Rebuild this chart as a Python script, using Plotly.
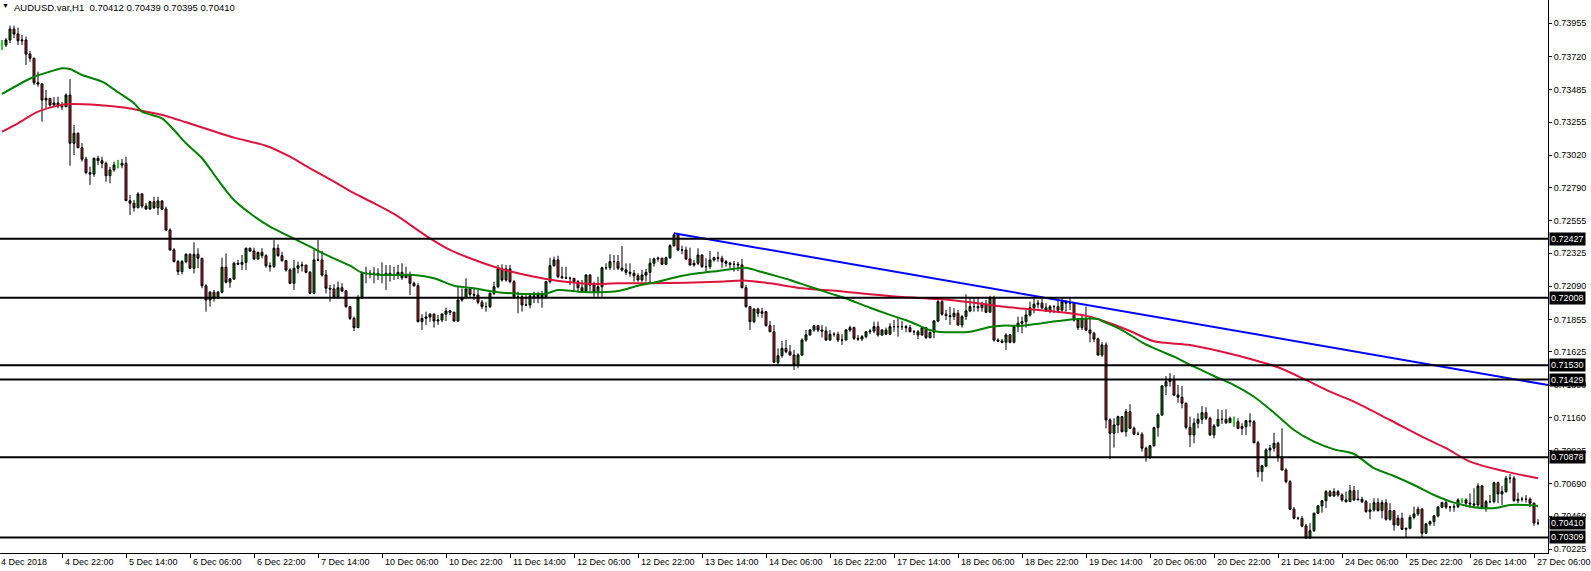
import plotly.graph_objects as go

# ---------------- data (AUDUSD H1, bars 1..385) ----------------
closes = [
0.73801,0.73836,0.73914,0.73879,0.73831,0.73836,0.73737,0.73707,0.73534,0.73524,
0.73411,0.73423,0.73376,0.73390,0.73368,0.73363,0.73446,0.73104,0.73175,0.73073,
0.72991,0.72896,0.72886,0.72998,0.72981,0.72962,0.72874,0.72915,0.72950,0.72950,
0.72962,0.72697,0.72679,0.72647,0.72745,0.72659,0.72638,0.72690,0.72647,0.72695,
0.72638,0.72489,0.72348,0.72265,0.72194,0.72265,0.72317,0.72218,0.72317,0.72289,
0.72094,0.71993,0.72048,0.72005,0.72048,0.72225,0.72119,0.72142,0.72253,0.72246,
0.72260,0.72360,0.72340,0.72284,0.72331,0.72307,0.72236,0.72229,0.72360,0.72307,
0.72272,0.72206,0.72111,0.72218,0.72236,0.72241,0.72189,0.72040,0.72277,0.72277,
0.72170,0.72076,0.72071,0.72016,0.72080,0.72057,0.71946,0.71863,0.71797,0.72005,
0.72182,0.72182,0.72182,0.72182,0.72170,0.72170,0.72182,0.72175,0.72170,0.72189,
0.72151,0.72170,0.72111,0.72094,0.71839,0.71863,0.71872,0.71892,0.71844,0.71851,
0.71892,0.71915,0.71906,0.71844,0.71993,0.72009,0.72071,0.72033,0.72028,0.71977,
0.71946,0.71946,0.72040,0.72087,0.72213,0.72135,0.72213,0.72123,0.72016,0.72016,
0.71958,0.71958,0.72023,0.72016,0.72028,0.72016,0.72123,0.72236,0.72277,0.72158,
0.72151,0.72147,0.72147,0.72123,0.72080,0.72057,0.72170,0.72099,0.72052,0.72087,
0.72222,0.72222,0.72265,0.72265,0.72218,0.72206,0.72189,0.72182,0.72165,0.72135,
0.72170,0.72189,0.72253,0.72284,0.72289,0.72246,0.72293,0.72378,0.72454,0.72348,
0.72348,0.72284,0.72241,0.72253,0.72312,0.72229,0.72229,0.72277,0.72293,0.72289,
0.72265,0.72253,0.72246,0.72246,0.72241,0.72080,0.71946,0.71839,0.71929,0.71899,
0.71910,0.71811,0.71768,0.71551,0.71598,0.71650,0.71626,0.71603,0.71532,0.71603,
0.71709,0.71745,0.71780,0.71811,0.71780,0.71773,0.71709,0.71750,0.71750,0.71709,
0.71709,0.71780,0.71797,0.71721,0.71716,0.71733,0.71768,0.71773,0.71804,0.71745,
0.71780,0.71750,0.71804,0.71804,0.71804,0.71804,0.71797,0.71768,0.71768,0.71745,
0.71797,0.71726,0.71764,0.71844,0.71981,0.71892,0.71882,0.71875,0.71899,0.71816,
0.71875,0.71915,0.71946,0.71946,0.71938,0.71963,0.71906,0.72009,0.71709,0.71702,
0.71693,0.71745,0.71693,0.71804,0.71828,0.71839,0.71887,0.71938,0.71963,0.71970,
0.71938,0.71915,0.71946,0.71946,0.71922,0.71981,0.71970,0.71970,0.71851,0.71797,
0.71863,0.71780,0.71757,0.71716,0.71603,0.71674,0.71142,0.71048,0.71107,0.71166,
0.71059,0.71201,0.71083,0.71041,0.71041,0.70942,0.70875,0.70960,0.71088,0.71178,
0.71383,0.71414,0.71431,0.71319,0.71303,0.71261,0.71090,0.71036,0.71119,0.71147,
0.71194,0.71154,0.71036,0.71100,0.71147,0.71147,0.71123,0.71154,0.71130,0.71083,
0.71095,0.71137,0.71130,0.70981,0.70776,0.70816,0.70930,0.70942,0.70977,0.70882,
0.70788,0.70705,0.70510,0.70445,0.70445,0.70391,0.70304,0.70357,0.70481,0.70533,
0.70570,0.70634,0.70603,0.70634,0.70610,0.70575,0.70563,0.70641,0.70575,0.70580,
0.70563,0.70492,0.70505,0.70556,0.70500,0.70556,0.70438,0.70500,0.70398,0.70445,
0.70367,0.70374,0.70452,0.70476,0.70510,0.70339,0.70405,0.70421,0.70462,0.70524,
0.70556,0.70524,0.70524,0.70528,0.70575,0.70575,0.70552,0.70547,0.70540,0.70674,
0.70524,0.70563,0.70563,0.70698,0.70618,0.70634,0.70729,0.70729,0.70570,0.70580,
0.70580,0.70580,0.70552,0.70412,0.70410]

highs = [
0.73836,0.73851,0.73938,0.73938,0.73924,0.73872,0.73860,0.73758,0.73711,0.73612,
0.73532,0.73482,0.73411,0.73432,0.73434,0.73397,0.73458,0.73560,0.73234,0.73182,
0.73106,0.73009,0.72938,0.73002,0.73016,0.73009,0.72974,0.72938,0.72974,0.72986,
0.72993,0.73009,0.72737,0.72702,0.72757,0.72750,0.72681,0.72697,0.72725,0.72725,
0.72702,0.72655,0.72501,0.72360,0.72277,0.72277,0.72324,0.72324,0.72402,0.72360,
0.72289,0.72104,0.72057,0.72064,0.72057,0.72293,0.72324,0.72147,0.72265,0.72277,
0.72312,0.72364,0.72364,0.72364,0.72335,0.72360,0.72317,0.72260,0.72418,0.72388,
0.72335,0.72277,0.72218,0.72277,0.72265,0.72265,0.72241,0.72199,0.72348,0.72418,
0.72340,0.72206,0.72099,0.72104,0.72123,0.72111,0.72064,0.71946,0.71875,0.72028,
0.72194,0.72229,0.72206,0.72225,0.72218,0.72260,0.72241,0.72241,0.72229,0.72241,
0.72253,0.72229,0.72194,0.72123,0.72111,0.71892,0.71910,0.71899,0.71899,0.71887,
0.71899,0.71938,0.71922,0.71910,0.72087,0.72076,0.72147,0.72080,0.72071,0.72064,
0.71993,0.71977,0.72048,0.72123,0.72241,0.72246,0.72241,0.72241,0.72135,0.72052,
0.72033,0.72040,0.72040,0.72052,0.72052,0.72057,0.72128,0.72293,0.72300,0.72307,
0.72229,0.72229,0.72158,0.72135,0.72135,0.72135,0.72175,0.72175,0.72123,0.72158,
0.72229,0.72253,0.72317,0.72312,0.72312,0.72376,0.72253,0.72253,0.72206,0.72182,
0.72206,0.72213,0.72289,0.72293,0.72300,0.72293,0.72300,0.72388,0.72466,0.72466,
0.72378,0.72371,0.72364,0.72277,0.72360,0.72317,0.72289,0.72340,0.72300,0.72335,
0.72307,0.72277,0.72265,0.72270,0.72262,0.72284,0.72099,0.71946,0.71934,0.71938,
0.71938,0.71915,0.71844,0.71816,0.71650,0.71702,0.71709,0.71674,0.71639,0.71615,
0.71721,0.71780,0.71787,0.71816,0.71816,0.71816,0.71804,0.71780,0.71764,0.71768,
0.71750,0.71787,0.71811,0.71804,0.71745,0.71745,0.71773,0.71787,0.71839,0.71839,
0.71787,0.71797,0.71828,0.71851,0.71863,0.71844,0.71816,0.71816,0.71780,0.71780,
0.71804,0.71787,0.71768,0.71851,0.72000,0.72000,0.71922,0.71946,0.71934,0.71922,
0.71887,0.72033,0.72005,0.72005,0.72005,0.71981,0.71993,0.72023,0.72023,0.71721,
0.71716,0.71757,0.71750,0.71811,0.71875,0.71875,0.71922,0.71981,0.72009,0.71993,
0.72005,0.71970,0.71958,0.71958,0.71993,0.72005,0.71993,0.72005,0.71970,0.71863,
0.71887,0.71946,0.71875,0.71768,0.71726,0.71693,0.71693,0.71154,0.71154,0.71173,
0.71166,0.71220,0.71254,0.71095,0.71059,0.71055,0.70953,0.70965,0.71095,0.71190,
0.71390,0.71454,0.71473,0.71461,0.71390,0.71383,0.71265,0.71166,0.71154,0.71190,
0.71241,0.71232,0.71166,0.71114,0.71218,0.71213,0.71218,0.71166,0.71166,0.71154,
0.71119,0.71142,0.71190,0.71142,0.70995,0.70823,0.70942,0.70965,0.71052,0.70988,
0.71083,0.70800,0.70717,0.70524,0.70457,0.70462,0.70405,0.70410,0.70485,0.70540,
0.70575,0.70646,0.70646,0.70658,0.70646,0.70622,0.70634,0.70681,0.70674,0.70646,
0.70598,0.70575,0.70552,0.70587,0.70587,0.70575,0.70580,0.70552,0.70505,0.70469,
0.70485,0.70376,0.70469,0.70528,0.70528,0.70517,0.70414,0.70428,0.70469,0.70533,
0.70563,0.70570,0.70533,0.70547,0.70587,0.70587,0.70587,0.70622,0.70658,0.70693,
0.70681,0.70575,0.70610,0.70705,0.70705,0.70674,0.70745,0.70759,0.70745,0.70627,
0.70598,0.70610,0.70594,0.70556,0.70439]

lows = [
0.73766,0.73787,0.73815,0.73851,0.73801,0.73801,0.73659,0.73683,0.73517,0.73505,
0.73257,0.73354,0.73363,0.73361,0.73352,0.73340,0.73363,0.72945,0.73021,0.73069,
0.72974,0.72884,0.72808,0.72867,0.72950,0.72927,0.72832,0.72820,0.72903,0.72927,
0.72927,0.72695,0.72596,0.72619,0.72643,0.72643,0.72631,0.72631,0.72638,0.72596,
0.72631,0.72484,0.72343,0.72260,0.72170,0.72175,0.72253,0.72213,0.72182,0.72218,
0.72076,0.71910,0.71946,0.71981,0.72000,0.72040,0.72111,0.72080,0.72135,0.72241,
0.72206,0.72206,0.72335,0.72277,0.72277,0.72289,0.72222,0.72194,0.72222,0.72300,
0.72265,0.72194,0.72104,0.72064,0.72182,0.72194,0.72182,0.72033,0.72033,0.72270,
0.72158,0.72040,0.71981,0.72009,0.72009,0.72052,0.71938,0.71851,0.71773,0.71797,
0.72000,0.72111,0.72147,0.72111,0.72135,0.72111,0.72064,0.72123,0.72135,0.72142,
0.72135,0.72156,0.72028,0.72087,0.71835,0.71780,0.71816,0.71839,0.71797,0.71816,
0.71835,0.71844,0.71887,0.71839,0.71839,0.71981,0.72005,0.72016,0.71993,0.71963,
0.71929,0.71910,0.71934,0.72028,0.72076,0.72123,0.72123,0.72111,0.72005,0.71899,
0.71910,0.71953,0.71934,0.71970,0.71970,0.71938,0.72009,0.72111,0.72229,0.72147,
0.72142,0.72142,0.72099,0.72052,0.72052,0.72048,0.72052,0.72057,0.72016,0.72016,
0.72016,0.72206,0.72206,0.72206,0.72206,0.72194,0.72170,0.72158,0.72123,0.72123,
0.72123,0.72123,0.72111,0.72229,0.72265,0.72241,0.72241,0.72284,0.72371,0.72340,
0.72317,0.72277,0.72236,0.72229,0.72241,0.72222,0.72194,0.72213,0.72265,0.72265,
0.72222,0.72229,0.72218,0.72194,0.72199,0.72076,0.71938,0.71780,0.71828,0.71875,
0.71867,0.71804,0.71764,0.71544,0.71532,0.71584,0.71615,0.71598,0.71497,0.71509,
0.71598,0.71697,0.71740,0.71768,0.71764,0.71726,0.71702,0.71702,0.71733,0.71693,
0.71674,0.71721,0.71768,0.71709,0.71702,0.71702,0.71721,0.71750,0.71757,0.71733,
0.71740,0.71745,0.71745,0.71768,0.71733,0.71780,0.71764,0.71764,0.71745,0.71716,
0.71740,0.71716,0.71721,0.71721,0.71835,0.71882,0.71851,0.71816,0.71851,0.71811,
0.71797,0.71851,0.71906,0.71910,0.71910,0.71910,0.71899,0.71906,0.71697,0.71693,
0.71686,0.71639,0.71686,0.71686,0.71764,0.71757,0.71797,0.71875,0.71899,0.71934,
0.71929,0.71910,0.71899,0.71899,0.71899,0.71910,0.71910,0.71922,0.71839,0.71780,
0.71780,0.71773,0.71693,0.71693,0.71598,0.71591,0.71083,0.70866,0.70946,0.71048,
0.71055,0.71024,0.71078,0.71036,0.71036,0.70918,0.70847,0.70866,0.70953,0.71024,
0.71171,0.71319,0.71378,0.71312,0.71265,0.71225,0.71076,0.70949,0.70977,0.71083,
0.71114,0.71142,0.71029,0.71012,0.71095,0.71114,0.71114,0.71123,0.71095,0.71076,
0.71036,0.71036,0.71095,0.70977,0.70736,0.70705,0.70807,0.70882,0.70918,0.70847,
0.70783,0.70693,0.70505,0.70438,0.70433,0.70381,0.70301,0.70320,0.70350,0.70476,
0.70485,0.70517,0.70598,0.70598,0.70598,0.70563,0.70556,0.70563,0.70570,0.70575,
0.70552,0.70485,0.70438,0.70492,0.70492,0.70445,0.70428,0.70428,0.70357,0.70391,
0.70362,0.70304,0.70367,0.70438,0.70462,0.70304,0.70334,0.70391,0.70391,0.70452,
0.70517,0.70510,0.70492,0.70492,0.70517,0.70552,0.70528,0.70517,0.70517,0.70517,
0.70517,0.70492,0.70552,0.70552,0.70552,0.70540,0.70627,0.70693,0.70563,0.70552,
0.70563,0.70556,0.70524,0.70391,0.70395]

last_bar_open = 0.70412          # from the header O value
doji_bars = [1, 30, 309, 366]    # bars drawn as lime crosses (open == close)

# moving averages (sampled along the curve)
ma_fast_bars = [1, 9, 13, 16, 18, 21, 26, 30, 34, 36, 41, 44, 47, 51, 55, 59, 63, 68, 73, 78,
                83, 88, 91, 97, 104, 109, 114, 119, 124, 130, 137, 140, 145, 151, 155, 160, 165,
                170, 175, 180, 185, 187, 190, 193, 198, 203, 208, 213, 218, 223, 228, 233, 235,
                240, 243, 248, 251, 256, 260, 265, 270, 275, 276, 281, 286, 290, 294, 299, 304,
                309, 314, 319, 324, 329, 334, 339, 344, 349, 354, 359, 364, 369, 374, 378, 382, 385]
ma_fast = [0.73454, 0.73576, 0.73612, 0.73636, 0.73631, 0.73588, 0.73541, 0.73466, 0.73388, 0.73328,
           0.73281, 0.73198, 0.73104, 0.72998, 0.72844, 0.72702, 0.72608, 0.72513, 0.72442, 0.72371,
           0.72300, 0.72236, 0.72187, 0.72170, 0.72170, 0.72147, 0.72094, 0.72076, 0.72052, 0.72038,
           0.72038, 0.72064, 0.72052, 0.72048, 0.72057, 0.72094, 0.72123, 0.72158, 0.72182, 0.72199,
           0.72218, 0.72222, 0.72199, 0.72175, 0.72135, 0.72087, 0.72040, 0.71993, 0.71938, 0.71887,
           0.71839, 0.71780, 0.71768, 0.71764, 0.71768, 0.71802, 0.71811, 0.71811, 0.71825, 0.71844,
           0.71858, 0.71858, 0.71844, 0.71780, 0.71693, 0.71639, 0.71591, 0.71520, 0.71454, 0.71390,
           0.71307, 0.71194, 0.71071, 0.70988, 0.70934, 0.70901, 0.70800, 0.70745, 0.70681, 0.70610,
           0.70556, 0.70524, 0.70517, 0.70540, 0.70540, 0.70533]

ma_slow_bars = [1, 5, 10, 15, 17, 25, 32, 37, 42, 47, 53, 59, 67, 73, 78, 84, 89, 94, 99, 108,
                113, 118, 124, 130, 137, 143, 148, 155, 163, 172, 180, 187, 193, 201, 210, 218,
                226, 235, 243, 251, 260, 268, 273, 278, 283, 289, 298, 306, 314, 320, 327, 333,
                339, 348, 356, 362, 368, 377, 385]
ma_slow = [0.73186, 0.73246, 0.73328, 0.73371, 0.73381, 0.73376, 0.73356, 0.73328, 0.73298, 0.73253,
           0.73198, 0.73144, 0.73087, 0.73009, 0.72927, 0.72832, 0.72750, 0.72679, 0.72603, 0.72430,
           0.72348, 0.72289, 0.72229, 0.72182, 0.72142, 0.72119, 0.72106, 0.72111, 0.72111, 0.72116,
           0.72123, 0.72130, 0.72111, 0.72076, 0.72057, 0.72033, 0.72014, 0.72000, 0.71977, 0.71946,
           0.71922, 0.71899, 0.71875, 0.71828, 0.71773, 0.71700, 0.71674, 0.71626, 0.71568, 0.71516,
           0.71426, 0.71343, 0.71272, 0.71142, 0.71024, 0.70942, 0.70847, 0.70776, 0.70729]

trend_bars = [169, 387.5]
trend_prices = [0.72466, 0.71390]

level_prices = [0.72427, 0.72008, 0.71530, 0.71429, 0.70878, 0.70309]
bid_price = 0.70410

y_ticks = [0.73955, 0.73720, 0.73485, 0.73255, 0.73020, 0.72790, 0.72555, 0.72325, 0.72090,
           0.71855, 0.71625, 0.71390, 0.71160, 0.70925, 0.70690, 0.70460, 0.70225]

x_tick_bars = [16 * k for k in range(25)]
x_tick_labels = ["4 Dec 2018", "4 Dec 22:00", "5 Dec 14:00", "6 Dec 06:00", "6 Dec 22:00",
                 "7 Dec 14:00", "10 Dec 06:00", "10 Dec 22:00", "11 Dec 14:00", "12 Dec 06:00",
                 "12 Dec 22:00", "13 Dec 14:00", "14 Dec 06:00", "16 Dec 22:00", "17 Dec 14:00",
                 "18 Dec 06:00", "18 Dec 22:00", "19 Dec 14:00", "20 Dec 06:00", "20 Dec 22:00",
                 "21 Dec 14:00", "24 Dec 06:00", "25 Dec 22:00", "26 Dec 14:00", "27 Dec 06:00"]

title_text = "AUDUSD.var,H1\u00a0\u00a00.70412 0.70439 0.70395 0.70410"

# ---------------- build ----------------
n = min(len(closes), len(highs), len(lows))
closes, highs, lows = closes[:n], highs[:n], lows[:n]
bars = list(range(1, n + 1))
opens = [closes[0]] + closes[:-1]
opens[-1] = last_bar_open
for b in doji_bars:
    if b <= n:
        opens[b - 1] = closes[b - 1]
hi = [max(h, o, c) for h, o, c in zip(highs, opens, closes)]
lo = [min(l, o, c) for l, o, c in zip(lows, opens, closes)]

FONT = "Liberation Sans, Arial, sans-serif"
fig = go.Figure()

fig.add_trace(go.Scatter(x=trend_bars, y=trend_prices, mode="lines",
                         line=dict(color="#0000ff", width=2), hoverinfo="skip", showlegend=False))
fig.add_trace(go.Scatter(x=ma_slow_bars, y=ma_slow, mode="lines",
                         line=dict(color="#dc143c", width=2, shape="spline", smoothing=0.8),
                         hoverinfo="skip", showlegend=False))
fig.add_trace(go.Scatter(x=ma_fast_bars, y=ma_fast, mode="lines",
                         line=dict(color="#008000", width=2, shape="spline", smoothing=0.8),
                         hoverinfo="skip", showlegend=False))

fig.add_trace(go.Candlestick(
    x=bars, open=opens, high=hi, low=lo, close=closes,
    increasing=dict(line=dict(color="black", width=1), fillcolor="#008000"),
    decreasing=dict(line=dict(color="black", width=1), fillcolor="#c0202a"),
    whiskerwidth=0, hoverinfo="skip", showlegend=False))

dj = [b for b in doji_bars if b <= n]
fig.add_trace(go.Candlestick(
    x=dj, open=[opens[b - 1] for b in dj], high=[hi[b - 1] for b in dj],
    low=[lo[b - 1] for b in dj], close=[closes[b - 1] for b in dj],
    increasing=dict(line=dict(color="#00ff00", width=1), fillcolor="#00ff00"),
    decreasing=dict(line=dict(color="#00ff00", width=1), fillcolor="#00ff00"),
    whiskerwidth=0, hoverinfo="skip", showlegend=False))

shapes = []
for p in level_prices:
    shapes.append(dict(type="line", xref="paper", x0=0, x1=1, yref="y", y0=p, y1=p,
                       line=dict(color="black", width=2)))

annotations = []
for p in level_prices + [bid_price]:
    annotations.append(dict(xref="paper", x=1, xanchor="left", xshift=1, yref="y", y=p,
                            text=f"{p:.5f}", showarrow=False, bgcolor="black",
                            font=dict(family=FONT, size=9, color="white"), borderpad=1))
for b, t in zip(x_tick_bars, x_tick_labels):
    pos = max(b, 0.5)
    annotations.append(dict(xref="x", x=pos, xanchor="left", xshift=1 + (b - pos) * 4,
                            yref="paper", y=0, yanchor="top", yshift=-2,
                            text=t, showarrow=False, font=dict(family=FONT, size=9, color="black")))
annotations.append(dict(xref="paper", x=0, xanchor="left", xshift=12, yref="paper", y=1,
                        yanchor="top", yshift=0, text=title_text, showarrow=False,
                        font=dict(family=FONT, size=9.5, color="black")))
annotations.append(dict(xref="paper", x=0, xanchor="left", xshift=0, yref="paper", y=1,
                        yanchor="top", yshift=0, text="\u25bc", showarrow=False,
                        font=dict(family=FONT, size=7, color="black")))

fig.update_layout(
    width=1591, height=571,
    margin=dict(l=0, r=43, t=0, b=18),
    paper_bgcolor="white", plot_bgcolor="white",
    showlegend=False, hovermode=False,
    shapes=shapes, annotations=annotations,
    xaxis=dict(range=[0.5, 387.5], showgrid=False, zeroline=False,
               rangeslider=dict(visible=False),
               tickmode="array", tickvals=x_tick_bars, showticklabels=False,
               ticks="outside", ticklen=4, tickcolor="black", tickwidth=1,
               showline=True, linecolor="black", linewidth=1),
    yaxis=dict(range=[0.70199, 0.74120], side="right", showgrid=False, zeroline=False,
               tickmode="array", tickvals=y_ticks, tickformat=".5f",
               ticks="outside", ticklen=3, tickcolor="black", tickwidth=1,
               showline=True, linecolor="black", linewidth=1,
               tickfont=dict(family=FONT, size=9, color="black")),
)

fig.write_html("out.html",
               config={"displayModeBar": False},
               post_script="document.body.style.margin='0';document.body.style.padding='0';"
                           "document.body.style.overflow='hidden';")
